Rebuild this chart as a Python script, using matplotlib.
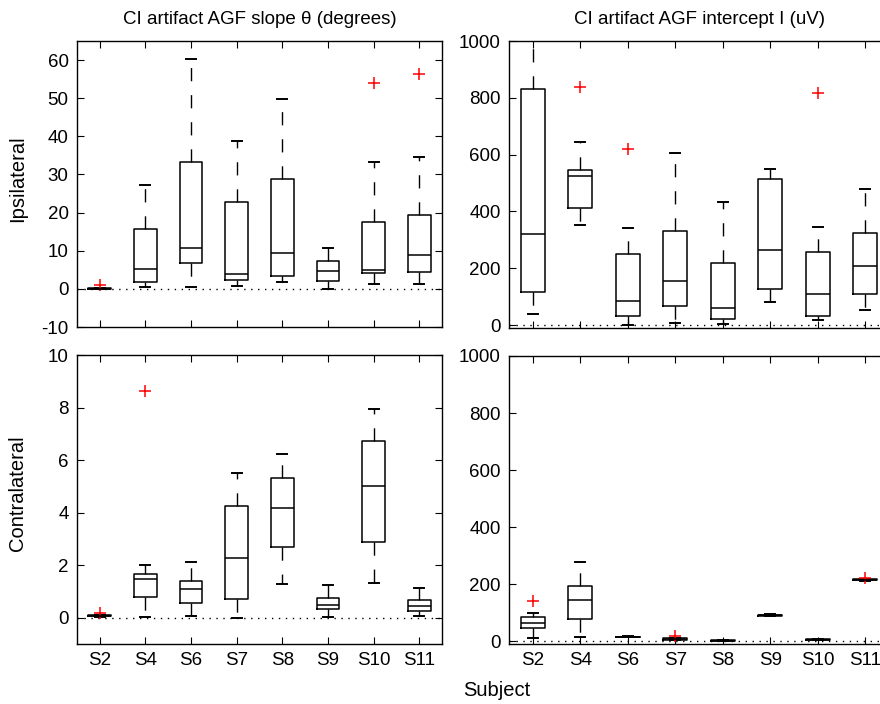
import matplotlib
matplotlib.use("Agg")
import matplotlib.pyplot as plt
import numpy as np

plt.rcParams['font.family'] = ['Liberation Sans', 'DejaVu Sans']
plt.rcParams['axes.unicode_minus'] = False

subjects = ["S2", "S4", "S6", "S7", "S8", "S9", "S10", "S11"]

# Ipsilateral slope (degrees)
ips_slope_med = [0.05, 5.1, 10.7, 3.8, 9.4, 4.7, 5.05, 8.8]
ips_slope_q1 = [0.0, 1.9, 6.7, 2.3, 3.4, 2.1, 4.1, 4.35]
ips_slope_q3 = [0.15, 15.7, 33.4, 22.8, 28.8, 7.2, 17.5, 19.25]
ips_slope_lo = [0.0, 0.5, 0.6, 0.8, 1.7, 0.0, 1.4, 1.4]
ips_slope_hi = [0.2, 27.2, 60.2, 38.9, 49.7, 10.8, 33.4, 34.7]
ips_slope_out = [[0.9], [], [], [], [], [], [54.1], [56.4]]

# Ipsilateral intercept (uV)
ips_int_med = [322, 524, 85, 156, 59, 265, 108, 209]
ips_int_q1 = [116, 413, 32, 67, 20, 126, 32, 111]
ips_int_q3 = [830, 545, 249, 331, 220, 516, 258, 324]
ips_int_lo = [40, 353, 2, 9, 3, 81, 19, 53]
ips_int_hi = [1100, 645, 342, 605, 432, 548, 344, 479]
ips_int_out = [[], [838], [621], [], [], [], [817], []]

# Contralateral slope (degrees)
con_slope_med = [0.07, 1.46, 1.11, 2.27, 4.17, 0.47, 5.03, 0.43]
con_slope_q1 = [0.05, 0.80, 0.56, 0.73, 2.70, 0.32, 2.87, 0.24]
con_slope_q3 = [0.09, 1.66, 1.39, 4.27, 5.32, 0.76, 6.73, 0.66]
con_slope_lo = [0.02, 0.03, 0.08, 0.0, 1.29, 0.04, 1.31, 0.08]
con_slope_hi = [0.11, 2.01, 2.11, 5.49, 6.22, 1.24, 7.94, 1.15]
con_slope_out = [[0.19], [8.64], [], [], [], [], [], []]

# Contralateral intercept (uV)
con_int_med = [65, 144, 15, 7, 2, 91, 5, 216]
con_int_q1 = [47, 78, 14, 5, 1, 89, 4, 213]
con_int_q3 = [84, 194, 16, 10, 3, 93, 6, 218]
con_int_lo = [12, 15, 13, 3, 0.5, 88, 3, 211]
con_int_hi = [97, 278, 17, 12, 4, 94, 7, 219]
con_int_out = [[142], [], [], [19], [], [], [], [223]]


def stats(med, q1, q3, lo, hi, out):
    return [dict(med=m, q1=a, q3=b, whislo=l, whishi=h, fliers=np.array(o))
            for m, a, b, l, h, o in zip(med, q1, q3, lo, hi, out)]


W, H = 880, 704
fig = plt.figure(figsize=(W / 100, H / 100), dpi=100)


def ax_at(l, r, t, b):
    return fig.add_axes([l / W, (H - b) / H, (r - l) / W, (b - t) / H])


ax_tl = ax_at(77, 442, 41, 327)
ax_tr = ax_at(509, 889, 41, 328)
ax_bl = ax_at(77, 442, 355, 644)
ax_br = ax_at(509, 889, 356, 644)

panels = [
    (ax_tl, stats(ips_slope_med, ips_slope_q1, ips_slope_q3, ips_slope_lo, ips_slope_hi, ips_slope_out),
     (-10, 65), np.arange(-10, 61, 10)),
    (ax_tr, stats(ips_int_med, ips_int_q1, ips_int_q3, ips_int_lo, ips_int_hi, ips_int_out),
     (-10, 1000), np.arange(0, 1001, 200)),
    (ax_bl, stats(con_slope_med, con_slope_q1, con_slope_q3, con_slope_lo, con_slope_hi, con_slope_out),
     (-1, 10), np.arange(0, 11, 2)),
    (ax_br, stats(con_int_med, con_int_q1, con_int_q3, con_int_lo, con_int_hi, con_int_out),
     (-10, 1000), np.arange(0, 1001, 200)),
]

pos = np.arange(1, len(subjects) + 1)
for ax, st, ylim, yt in panels:
    ax.axhline(0, color='k', lw=1.0, linestyle=(0, (1, 4)), zorder=1)
    ax.bxp(st, positions=pos, widths=0.5, showfliers=True,
           boxprops=dict(color='k', lw=1.1),
           medianprops=dict(color='k', lw=1.1),
           whiskerprops=dict(color='k', lw=1.0, linestyle=(0, (9.5, 10))),
           capprops=dict(color='k', lw=1.4),
           capwidths=0.22,
           flierprops=dict(marker='+', markeredgecolor='red', markersize=8,
                           markeredgewidth=1.1, linestyle='none'))
    ax.set_xlim(0.5, 8.5)
    ax.set_ylim(*ylim)
    ax.set_yticks(yt)
    ax.set_xticks(pos)
    ax.tick_params(direction='in', top=True, right=True, length=5, width=0.8,
                   labelsize=13.5, pad=6)
    for s in ax.spines.values():
        s.set_linewidth(1.0)

ax_tl.set_xticklabels([])
ax_tr.set_xticklabels([])
ax_bl.set_xticklabels(subjects)
ax_br.set_xticklabels(subjects)

fig.text(259.5 / W, 1 - 20 / H, "CI artifact AGF slope θ (degrees)", ha='center', va='center', fontsize=13.5)
fig.text(699 / W, 1 - 20 / H, "CI artifact AGF intercept I (uV)", ha='center', va='center', fontsize=13.5)
fig.text(18 / W, 1 - 179 / H, "Ipsilateral", rotation=90, ha='center', va='center', fontsize=14.5)
fig.text(18 / W, 1 - 493 / H, "Contralateral", rotation=90, ha='center', va='center', fontsize=14.5)
fig.text(497 / W, 1 - 690 / H, "Subject", ha='center', va='center', fontsize=14.5)

fig.savefig("out.png", dpi=100)
